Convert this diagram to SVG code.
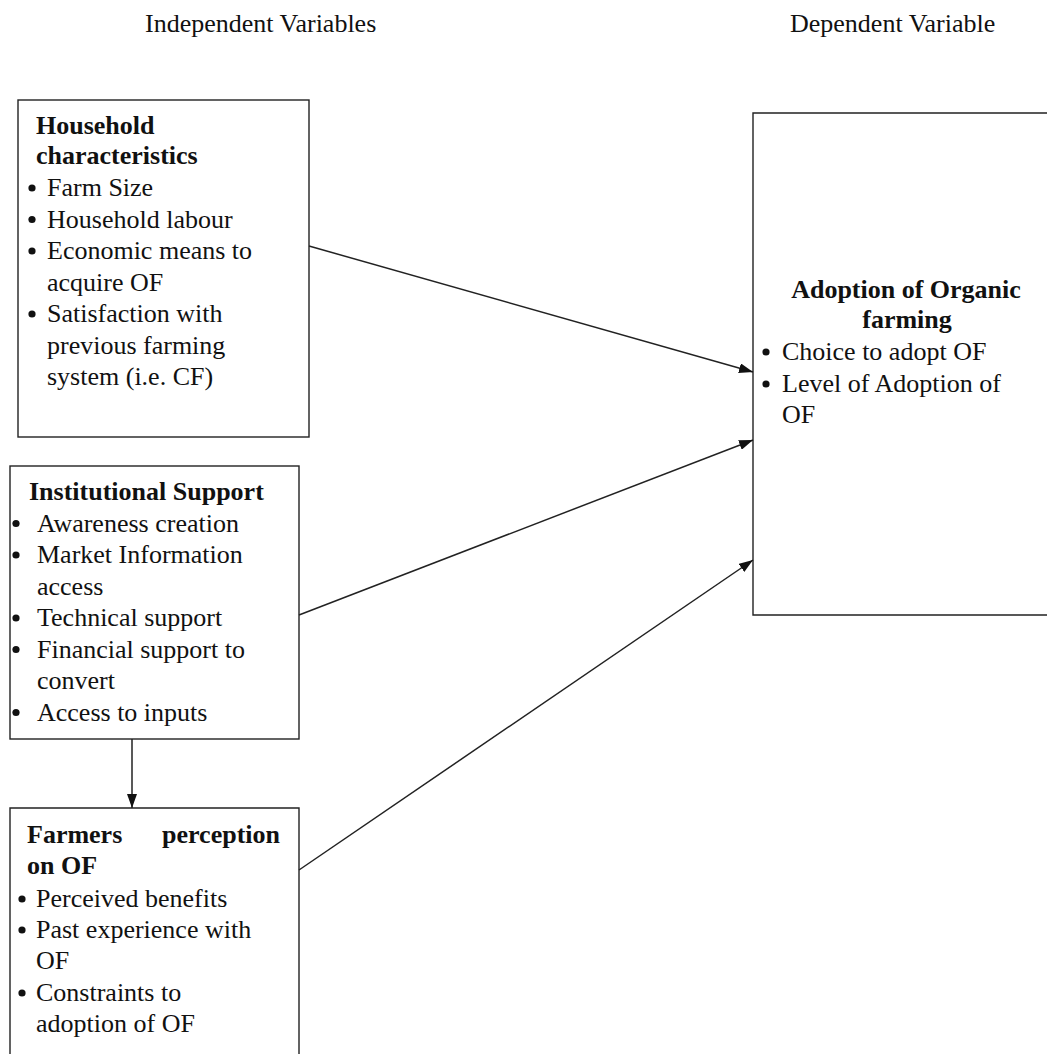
<svg xmlns="http://www.w3.org/2000/svg" width="1047" height="1054" viewBox="0 0 1047 1054" font-family="Liberation Serif, DejaVu Serif, serif">
<style>
text{font-family:'Liberation Serif','DejaVu Serif',serif;font-size:26px;fill:#111}
.b{font-weight:bold}
.box{fill:#fff;stroke:#222;stroke-width:1.4}
.con{stroke:#222;stroke-width:1.5;fill:none}
.dot{fill:#111}
</style>
<defs>
<marker id="ah" viewBox="0 0 14 10" refX="14" refY="5" markerWidth="14" markerHeight="10" markerUnits="userSpaceOnUse" orient="auto">
<path d="M0,0 L14,5 L0,10 Z" fill="#111"/>
</marker>
</defs>
<rect width="1047" height="1054" fill="#fff"/>
<text x="145" y="32">Independent Variables</text>
<text x="790" y="32">Dependent Variable</text>

<g id="household">
<rect class="box" x="18" y="100" width="291" height="337"/>
<text class="b" x="36" y="134">Household</text>
<text class="b" x="36" y="164">characteristics</text>
<circle class="dot" cx="32" cy="188" r="3.6"/><text x="47" y="196">Farm Size</text>
<circle class="dot" cx="32" cy="219.5" r="3.6"/><text x="47" y="227.5">Household labour</text>
<circle class="dot" cx="32" cy="251" r="3.6"/><text x="47" y="259">Economic means to</text>
<text x="47" y="290.5">acquire OF</text>
<circle class="dot" cx="32" cy="314" r="3.6"/><text x="47" y="322">Satisfaction with</text>
<text x="47" y="353.5">previous farming</text>
<text x="47" y="385">system (i.e. CF)</text>
</g>

<g id="institutional">
<rect class="box" x="10" y="466" width="289" height="273"/>
<text class="b" x="29" y="500">Institutional Support</text>
<circle class="dot" cx="16" cy="523.5" r="3.6"/><text x="37" y="531.5">Awareness creation</text>
<circle class="dot" cx="16" cy="555" r="3.6"/><text x="37" y="563">Market Information</text>
<text x="37" y="594.5">access</text>
<circle class="dot" cx="16" cy="618" r="3.6"/><text x="37" y="626">Technical support</text>
<circle class="dot" cx="16" cy="649.5" r="3.6"/><text x="37" y="657.5">Financial support to</text>
<text x="37" y="689">convert</text>
<circle class="dot" cx="16" cy="712.5" r="3.6"/><text x="37" y="720.5">Access to inputs</text>
</g>

<g id="perception">
<path class="box" d="M10,1060 L10,808 L299,808 L299,1060"/>
<text class="b" x="27" y="843">Farmers</text>
<text class="b" x="280" y="843" text-anchor="end">perception</text>
<text class="b" x="27" y="874">on OF</text>
<circle class="dot" cx="22" cy="899" r="3.6"/><text x="36" y="907">Perceived benefits</text>
<circle class="dot" cx="22" cy="930" r="3.6"/><text x="36" y="938">Past experience with</text>
<text x="36" y="969">OF</text>
<circle class="dot" cx="22" cy="993" r="3.6"/><text x="36" y="1001">Constraints to</text>
<text x="36" y="1032">adoption of OF</text>
</g>

<g id="adoption">
<path class="box" d="M1060,113 L753,113 L753,615 L1060,615"/>
<text class="b" x="906" y="298" text-anchor="middle">Adoption of Organic</text>
<text class="b" x="907" y="328" text-anchor="middle">farming</text>
<circle class="dot" cx="766" cy="352" r="3.6"/><text x="782" y="360">Choice to adopt OF</text>
<circle class="dot" cx="766" cy="384" r="3.6"/><text x="782" y="392">Level of Adoption of</text>
<text x="782" y="423">OF</text>
</g>

<g id="connectors">
<line class="con" x1="309" y1="246" x2="753" y2="372" marker-end="url(#ah)"/>
<line class="con" x1="299" y1="615" x2="753" y2="440" marker-end="url(#ah)"/>
<line class="con" x1="299" y1="870" x2="753" y2="560" marker-end="url(#ah)"/>
<line class="con" x1="132" y1="739" x2="132" y2="808" marker-end="url(#ah)"/>
</g>
</svg>
